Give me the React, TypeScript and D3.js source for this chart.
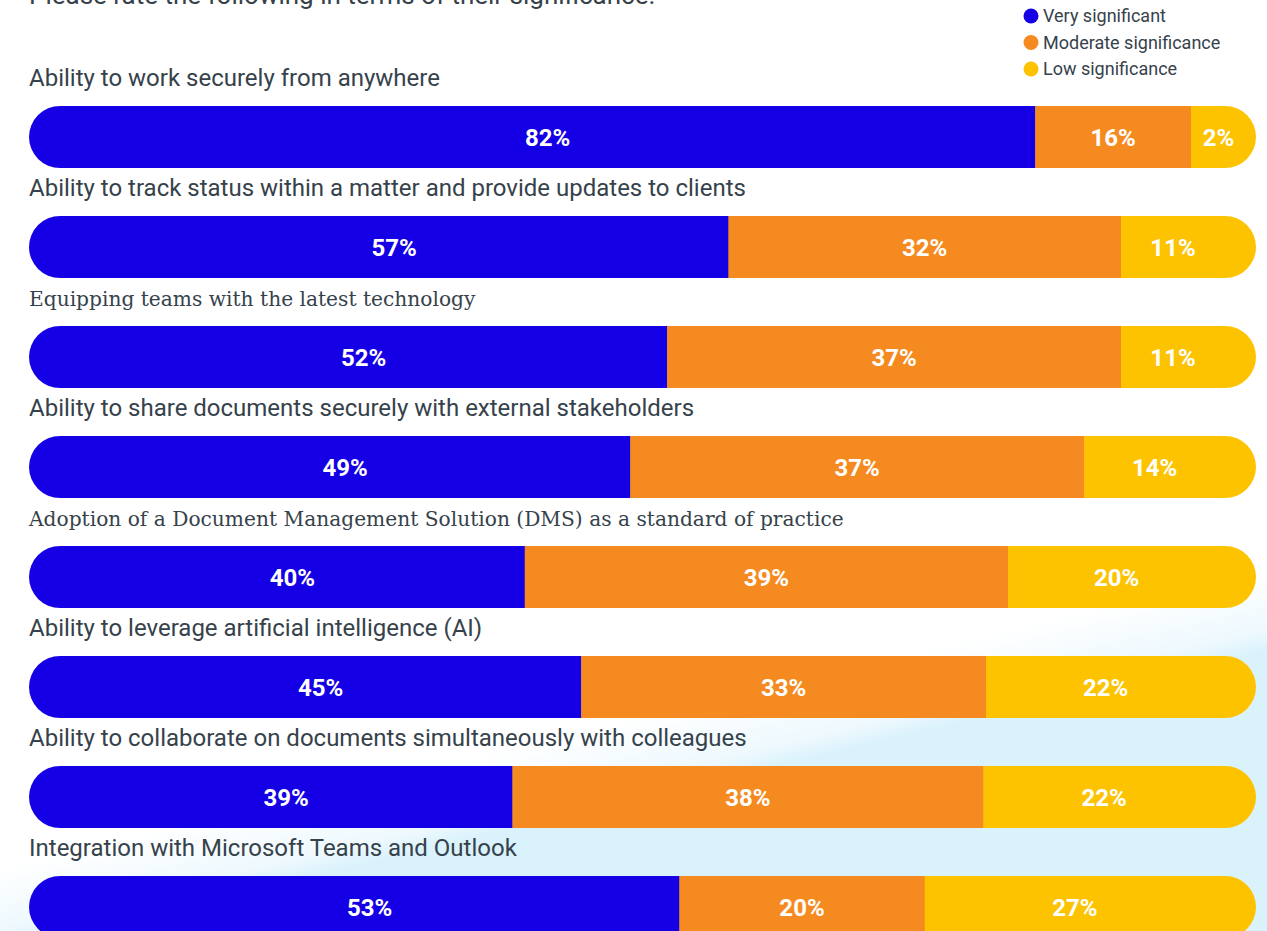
import React from "react";
import * as d3 from "d3";

const categories = [
  "Ability to work securely from anywhere",
  "Ability to track status within a matter and provide updates to clients",
  "Equipping teams with the latest technology",
  "Ability to share documents securely with external stakeholders",
  "Adoption of a Document Management Solution (DMS) as a standard of practice",
  "Ability to leverage artificial intelligence (AI)",
  "Ability to collaborate on documents simultaneously with colleagues",
  "Integration with Microsoft Teams and Outlook",
];
const verySignificant = [82, 57, 52, 49, 40, 45, 39, 53];
const moderateSignificance = [16, 32, 37, 37, 39, 33, 38, 20];
const lowSignificance = [2, 11, 11, 14, 20, 22, 22, 27];
const seriesNames = ["Very significant", "Moderate significance", "Low significance"];
const title = "Please rate the following in terms of their significance.";

const COLORS = ["#1500e6", "#f58b20", "#fdc300"];
const TEXT = "#36424b";
const SERIF_ROWS = new Set([2, 4]);
const W = 1267;
const H = 931;

export default function App() {
  const x = d3.scaleLinear().domain([0, 100]).range([29, 1256]);
  const y = d3
    .scaleBand<string>()
    .domain(categories)
    .range([106, 938])
    .paddingInner(48 / 110)
    .paddingOuter(0);
  const bh = y.bandwidth();
  const r = bh / 2;
  const series = [verySignificant, moderateSignificance, lowSignificance];
  const minLast = 65;

  const rows = categories.map((c, i) => {
    const vals = series.map((s) => s[i]);
    const total = d3.sum(vals);
    const stacked: number[] = [0];
    vals.forEach((v, k) => stacked.push(stacked[k] + (v / total) * 100));
    const xs = stacked.map((v) => x(v));
    // keep the final rounded segment readable
    if (xs[3] - xs[2] < minLast) xs[2] = xs[3] - minLast;
    const segs = vals.map((v, k) => {
      const x0 = xs[k];
      const x1 = xs[k + 1];
      const i0 = k === 0 ? x0 + r : x0;
      const i1 = k === vals.length - 1 ? x1 - r : x1;
      let cx = (i0 + i1) / 2;
      if (i1 - i0 < 50) cx = (x0 + x1) / 2 - 5;
      return { v, x0, x1, cx, color: COLORS[k] };
    });
    return { c, i, y0: y(c)!, segs };
  });

  const g0x = 633, g0y = 790;
  const nx = 0.23, ny = 0.973;

  return (
    <svg
      width={W}
      height={H}
      style={{ position: "absolute", left: 0, top: 0, background: "#ffffff" }}
    >
      <defs>
        <linearGradient
          id="bg"
          gradientUnits="userSpaceOnUse"
          x1={g0x - nx * 70}
          y1={g0y - ny * 70}
          x2={g0x + nx * 10}
          y2={g0y + ny * 10}
        >
          <stop offset="0" stopColor="#ffffff" />
          <stop offset="0.75" stopColor="#eef9fe" />
          <stop offset="1" stopColor="#daf2fc" />
        </linearGradient>
        {rows.map((row) => (
          <clipPath id={`pill-${row.i}`} key={row.i}>
            <rect x={x(0)} y={row.y0} width={x(100) - x(0)} height={bh} rx={r} ry={r} />
          </clipPath>
        ))}
      </defs>
      <rect x={0} y={0} width={W} height={H} fill="url(#bg)" />

      <text x={29} y={4} fontFamily="Roboto, sans-serif" fontSize={26} fill={TEXT}>
        {title}
      </text>

      {seriesNames.map((s, k) => (
        <g key={s} transform={`translate(1031, ${16 + k * 26.5})`}>
          <circle r={7.5} fill={COLORS[k]} />
          <text x={12} y={6} fontFamily="Roboto, sans-serif" fontSize={18} fill={TEXT}>
            {s}
          </text>
        </g>
      ))}

      {rows.map((row) => (
        <g key={row.i}>
          <text
            x={29}
            y={row.y0 - 20}
            fontFamily={SERIF_ROWS.has(row.i) ? "'DejaVu Serif', serif" : "Roboto, sans-serif"}
            fontSize={SERIF_ROWS.has(row.i) ? 20.2 : 24}
            fill={TEXT}
          >
            {row.c}
          </text>
          <g clipPath={`url(#pill-${row.i})`}>
            {row.segs.map((s, k) => (
              <rect
                key={k}
                x={s.x0}
                y={row.y0}
                width={s.x1 - s.x0 + (k < 2 ? 0.5 : 0)}
                height={bh}
                fill={s.color}
              />
            ))}
          </g>
          {row.segs.map((s, k) => (
            <text
              key={`t${k}`}
              x={s.cx}
              y={row.y0 + bh / 2 + 8.5}
              textAnchor="middle"
              fontFamily="Roboto, sans-serif"
              fontWeight={700}
              fontSize={24}
              fill="#ffffff"
            >
              {`${s.v}%`}
            </text>
          ))}
        </g>
      ))}
    </svg>
  );
}
